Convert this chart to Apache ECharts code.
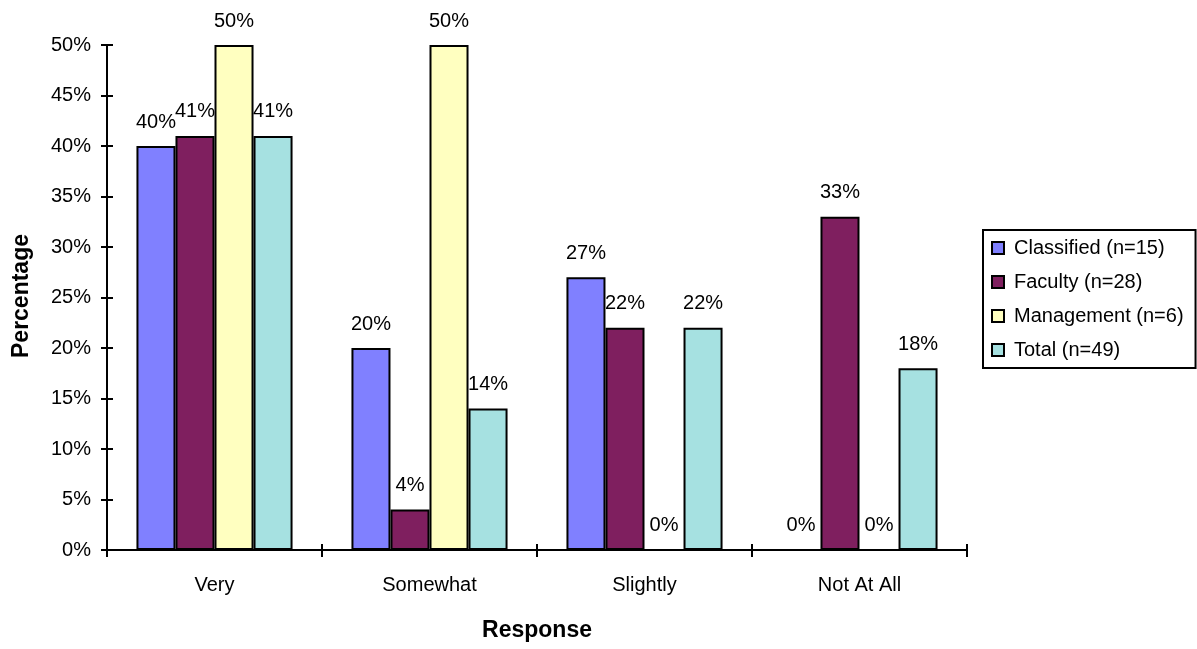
<!DOCTYPE html>
<html>
<head>
<meta charset="utf-8">
<script src="https://cdn.jsdelivr.net/npm/echarts@6/dist/echarts.min.js"></script>
<style>
html,body{margin:0;padding:0;background:#fff;}
#chart{width:1197px;height:649px;}
</style>
</head>
<body>
<div id="chart"></div>
<script>
const categories = ['Very', 'Somewhat', 'Slightly', 'Not At All'];
const seriesNames = ['Classified (n=15)', 'Faculty (n=28)', 'Management (n=6)', 'Total (n=49)'];
const classified = [40, 20, 27, 0];
const faculty = [41, 4, 22, 33];
const management = [50, 50, 0, 0];
const total = [41, 14, 22, 18];
const colors = ['#8080FF', '#7F1F5F', '#FFFFC0', '#A6E1E1'];

const FONT = '"Liberation Sans", Arial, sans-serif';
const chart = echarts.init(document.getElementById('chart'), null, {renderer: 'canvas'});

const seriesData = [classified, faculty, management, total];
const series = seriesData.map((d, i) => ({
  name: seriesNames[i],
  type: 'bar',
  data: d,
  xAxisIndex: 0, yAxisIndex: 0,
  barGap: '0%',
  barCategoryGap: '27.4%',
  itemStyle: {color: colors[i], borderColor: '#000', borderWidth: 2},
  label: {
    show: true, position: 'top', distance: 14,
    formatter: '{c}%', color: '#000', fontSize: 20, fontFamily: FONT
  },
  emphasis: {disabled: true},
  animation: false
}));
// invisible helper series on a twin grid whose axes draw the inward half of each tick
series.push({
  name: '_helper', type: 'line', xAxisIndex: 1, yAxisIndex: 1,
  data: [0, 0, 0, 0], symbol: 'none', silent: true,
  lineStyle: {opacity: 0}, label: {show: false}, animation: false
});

const yCommon = {
  type: 'value', min: 0, max: 50, interval: 5,
  splitLine: {show: false}
};
const gridBox = {left: 107, right: 230, top: 45, bottom: 99, containLabel: false};

chart.setOption({
  animation: false,
  textStyle: {fontFamily: FONT},
  grid: [Object.assign({}, gridBox), Object.assign({}, gridBox)],
  legend: {
    orient: 'vertical', left: 983, top: 230,
    data: seriesNames,
    itemWidth: 12, itemHeight: 12, itemGap: 14,
    padding: [8, 12, 8, 8],
    borderColor: '#000', borderWidth: 2,
    textStyle: {fontSize: 20, lineHeight: 20, color: '#000', fontFamily: FONT, padding: [0, 0, 0, 5]},
    icon: 'rect',
    selectedMode: false
  },
  xAxis: [
    {
      gridIndex: 0, type: 'category', data: categories, boundaryGap: true,
      axisLine: {lineStyle: {color: '#000', width: 2}},
      axisTick: {show: true, length: 7, lineStyle: {color: '#000', width: 2}},
      axisLabel: {color: '#000', fontSize: 20, fontFamily: FONT, margin: 25}
    },
    {
      gridIndex: 1, type: 'category', data: categories, boundaryGap: true, position: 'bottom',
      axisLine: {show: true, lineStyle: {color: '#000', width: 2}},
      axisTick: {show: true, inside: true, length: 6, lineStyle: {color: '#000', width: 2}},
      axisLabel: {show: false}
    }
  ],
  yAxis: [
    Object.assign({}, yCommon, {
      gridIndex: 0,
      axisLine: {show: true, lineStyle: {color: '#000', width: 2}},
      axisTick: {show: true, length: 6, lineStyle: {color: '#000', width: 2}},
      axisLabel: {color: '#000', fontSize: 20, fontFamily: FONT, margin: 16, formatter: '{value}%'}
    }),
    Object.assign({}, yCommon, {
      gridIndex: 1, position: 'left',
      axisLine: {show: true, lineStyle: {color: '#000', width: 2}},
      axisTick: {show: true, inside: true, length: 6, lineStyle: {color: '#000', width: 2}},
      axisLabel: {show: false}
    })
  ],
  graphic: [
    {
      type: 'text', x: 22, y: 296, rotation: Math.PI / 2,
      style: {text: 'Percentage', font: 'bold 23px ' + FONT, fill: '#000', textAlign: 'center', textVerticalAlign: 'middle'}
    },
    {
      type: 'text', x: 537, y: 631,
      style: {text: 'Response', font: 'bold 23px ' + FONT, fill: '#000', textAlign: 'center', textVerticalAlign: 'middle'}
    }
  ],
  series: series
});
</script>
</body>
</html>
